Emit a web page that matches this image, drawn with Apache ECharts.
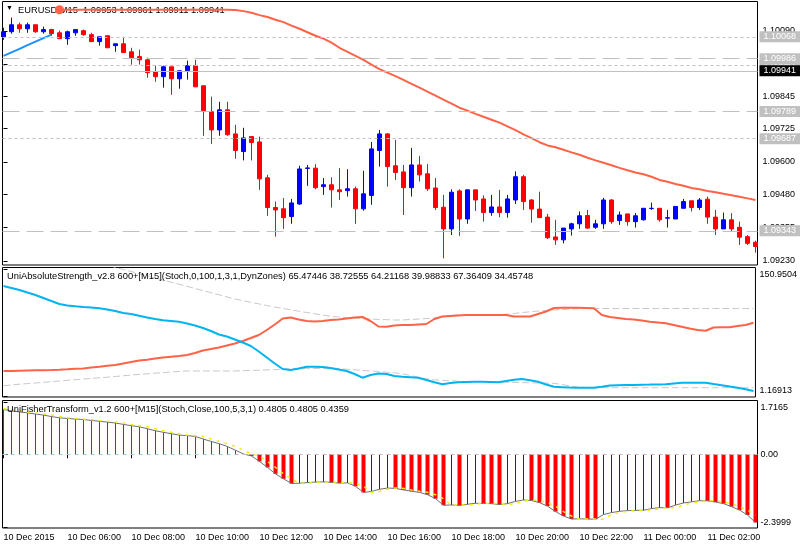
<!DOCTYPE html>
<html><head><meta charset="utf-8">
<script src="https://cdn.jsdelivr.net/npm/echarts@6.0.0/dist/echarts.min.js"></script>
<style>html,body{margin:0;padding:0;background:#fff}#c{width:800px;height:550px}</style>
</head><body><div id="c"></div>
<script>
// ---------- data ----------
const tickIdx = [0,8,16,24,32,40,48,56,64,72,80,88];
const tickText = ['10 Dec 2015','10 Dec 06:00','10 Dec 08:00','10 Dec 10:00','10 Dec 12:00','10 Dec 14:00','10 Dec 16:00','10 Dec 18:00','10 Dec 20:00','10 Dec 22:00','11 Dec 00:00','11 Dec 02:00'];

const open = [1.10068,1.10087,1.10113,1.10098,1.10113,1.10087,1.10095,1.10083,1.10061,1.10083,
1.10091,1.10076,1.10050,1.10072,1.10035,1.10042,1.10012,1.09994,1.09982,1.09938,
1.09919,1.09956,1.09911,1.09941,1.09960,1.09885,1.09788,1.09720,1.09795,1.09705,
1.09639,1.09695,1.09675,1.09541,1.09430,1.09425,1.09396,1.09443,1.09576,1.09577,
1.09508,1.09515,1.09496,1.09493,1.09500,1.09425,1.09475,1.09643,1.09705,1.09586,
1.09563,1.09504,1.09589,1.09556,1.09503,1.09431,1.09350,1.09492,1.09387,1.09496,
1.09462,1.09411,1.09432,1.09411,1.09458,1.09545,1.09458,1.09424,1.09394,1.09320,
1.09309,1.09350,1.09369,1.09400,1.09356,1.09369,1.09458,1.09381,1.09406,1.09377,
1.09384,1.09426,1.09427,1.09390,1.09387,1.09427,1.09455,1.09430,1.09461,1.09394,
1.09350,1.09384,1.09356,1.09321,1.09300];
const close = [1.10087,1.10113,1.10098,1.10113,1.10087,1.10095,1.10080,1.10061,1.10087,1.10095,
1.10076,1.10050,1.10068,1.10027,1.10042,1.10009,1.09990,1.09982,1.09934,1.09919,
1.09956,1.09911,1.09941,1.09960,1.09881,1.09792,1.09720,1.09795,1.09702,1.09643,
1.09690,1.09673,1.09537,1.09430,1.09421,1.09392,1.09447,1.09574,1.09578,1.09504,
1.09515,1.09496,1.09489,1.09500,1.09425,1.09481,1.09649,1.09705,1.09583,1.09561,
1.09504,1.09589,1.09552,1.09500,1.09430,1.09350,1.09487,1.09387,1.09496,1.09458,
1.09411,1.09432,1.09411,1.09462,1.09545,1.09452,1.09424,1.09392,1.09317,1.09309,
1.09353,1.09369,1.09399,1.09353,1.09369,1.09458,1.09377,1.09402,1.09377,1.09399,
1.09427,1.09427,1.09384,1.09392,1.09434,1.09452,1.09430,1.09458,1.09394,1.09350,
1.09384,1.09350,1.09319,1.09296,1.09284];
const high = [1.10102,1.10140,1.10121,1.10121,1.10113,1.10106,1.10098,1.10091,1.10091,1.10095,
1.10095,1.10083,1.10068,1.10072,1.10042,1.10068,1.10027,1.10020,1.09990,1.09960,
1.09960,1.09956,1.09941,1.09979,1.09982,1.09885,1.09844,1.09825,1.09825,1.09739,
1.09728,1.09695,1.09695,1.09552,1.09452,1.09465,1.09462,1.09586,1.09589,1.09592,
1.09540,1.09543,1.09577,1.09573,1.09508,1.09567,1.09675,1.09720,1.09708,1.09683,
1.09589,1.09653,1.09623,1.09593,1.09540,1.09477,1.09498,1.09498,1.09496,1.09496,
1.09475,1.09477,1.09496,1.09477,1.09565,1.09552,1.09461,1.09489,1.09406,1.09384,
1.09353,1.09373,1.09415,1.09421,1.09384,1.09466,1.09461,1.09415,1.09406,1.09409,
1.09427,1.09448,1.09427,1.09421,1.09434,1.09462,1.09455,1.09465,1.09471,1.09421,
1.09411,1.09409,1.09377,1.09327,1.09306];
const low = [1.10057,1.10080,1.10083,1.10083,1.10083,1.10080,1.10072,1.10061,1.10038,1.10072,
1.10072,1.10050,1.10035,1.10027,1.10012,1.10009,1.09964,1.09964,1.09915,1.09900,
1.09878,1.09851,1.09874,1.09908,1.09881,1.09698,1.09668,1.09698,1.09698,1.09612,
1.09606,1.09606,1.09496,1.09399,1.09321,1.09350,1.09369,1.09440,1.09511,1.09498,
1.09477,1.09430,1.09458,1.09471,1.09369,1.09418,1.09440,1.09583,1.09508,1.09533,
1.09402,1.09471,1.09527,1.09492,1.09421,1.09240,1.09327,1.09324,1.09369,1.09417,
1.09377,1.09399,1.09394,1.09392,1.09443,1.09421,1.09373,1.09392,1.09312,1.09290,
1.09296,1.09325,1.09350,1.09350,1.09350,1.09350,1.09369,1.09365,1.09362,1.09355,
1.09381,1.09421,1.09377,1.09355,1.09387,1.09427,1.09415,1.09421,1.09369,1.09327,
1.09350,1.09340,1.09290,1.09290,1.09261];

const maFast = [1.09997,1.10010,1.10023,1.10037,1.10050,1.10063,1.10076];
const maSlow = [null,null,null,null,null,null,null,
1.10169,1.10169,1.10169,1.10169,1.10169,1.10169,1.10169,1.10169,1.10169,1.10169,1.10169,
1.10169,1.10169,1.10169,1.10169,1.10169,1.10169,1.10169,1.10169,1.10169,1.10169,1.10169,
1.10168,1.10164,1.10158,1.10149,1.10142,1.10132,1.10123,1.10110,1.10098,1.10085,1.10072,
1.10061,1.10046,1.10027,1.10012,1.09997,1.09982,1.09964,1.09947,1.09934,1.09921,
1.09907,1.09892,1.09878,1.09863,1.09848,1.09833,1.09818,1.09803,1.09792,1.09780,
1.09769,1.09758,1.09747,1.09733,1.09719,1.09703,1.09689,1.09674,1.09662,1.09655,
1.09646,1.09636,1.09627,1.09616,1.09606,1.09597,1.09588,1.09578,1.09569,1.09561,
1.09554,1.09545,1.09533,1.09526,1.09518,1.09511,1.09503,1.09498,1.09492,1.09487,
1.09481,1.09476,1.09470,1.09464,1.09458];

const priceTicks = [1.10090,1.09965,1.09845,1.09725,1.09600,1.09480,1.09355,1.09230];
const dottedLevels = [1.10068,1.09961,1.09687];
const dashedLevels = [1.09986,1.09789,1.09343];
const bidPrice = 1.09941;

const strengthBull = [30.66,30.66,31.01,31.24,31.48,31.60,31.83,32.19,32.66,33.25,
33.72,34.78,35.73,36.90,37.73,39.50,41.27,43.04,43.98,45.40,
46.58,47.52,48.35,49.53,51.88,54.83,56.60,58.37,60.73,63.09,
66.04,69.58,73.11,79.01,85.50,92.57,93.75,91.39,89.63,89.04,
89.63,90.81,91.39,92.57,93.75,94.34,89.63,83.14,82.90,84.32,
84.91,84.91,85.50,86.09,91.98,94.93,95.52,96.11,96.70,96.70,
96.70,96.70,96.70,96.70,94.93,94.93,94.93,97.88,100.83,104.96,
105.31,105.31,105.31,104.96,104.60,96.70,94.34,93.16,91.98,91.39,
90.21,88.80,87.86,86.91,84.91,82.90,80.78,79.01,78.18,81.96,
82.19,82.19,83.73,84.91,87.62];
const strengthBear = [130.90,128.55,126.19,123.24,120.29,116.75,113.21,109.67,107.90,106.96,
106.14,105.55,104.60,103.19,101.42,99.06,97.88,95.87,93.75,91.98,
90.45,89.63,88.80,86.68,84.32,81.37,77.83,73.70,71.34,67.81,
64.27,60.14,53.65,46.58,39.50,33.01,31.83,33.60,35.73,35.73,
35.37,34.19,32.42,30.66,27.12,22.75,25.94,27.71,27.12,24.76,
23.81,23.34,22.75,20.04,17.33,14.97,16.50,17.45,17.68,17.92,
18.04,17.68,17.33,18.86,20.39,21.22,19.69,18.04,14.73,12.02,
11.55,11.08,10.96,10.96,10.96,12.14,13.44,13.79,14.03,14.14,
14.38,14.61,14.85,14.97,16.03,16.86,16.86,16.86,16.74,15.20,
13.79,12.37,10.84,9.19,7.07];
const zoneUpper = [null,null,null,null,null,null,null,null,null,null,null,null,
158.03,155.67,152.96,150.36,148.00,145.41,142.70,140.34,137.98,135.39,
133.03,130.55,127.96,125.48,123.00,120.52,118.05,115.57,113.68,111.68,
109.79,107.90,106.02,104.48,102.83,101.18,99.65,98.12,96.58,95.05,
94.34,93.63,93.04,92.45,91.98,91.51,91.16,90.81,90.81,91.39,
91.98,92.45,93.16,94.93,96.46,96.70,96.70,96.70,96.70,96.93,
97.29,97.64,98.47,99.65,100.47,101.42,102.01,102.60,103.19,103.78,
104.13,104.37,104.37,104.37,104.37,104.37,104.37,104.37,104.37,104.37,
104.37,104.37,104.37,104.37,104.37,104.37,104.37,104.37,104.37,104.37,
104.37,104.37,104.37];
const zoneLower = [13.32,14.14,15.09,15.79,16.50,17.33,18.15,18.86,19.69,20.39,
21.22,21.93,22.63,23.34,24.17,24.99,25.94,26.64,27.35,28.06,
28.77,29.48,30.07,30.66,30.66,30.66,30.66,30.66,30.66,30.66,
31.01,31.36,31.60,31.95,32.31,32.78,33.01,33.25,33.49,33.60,
33.72,33.84,33.60,32.78,32.07,31.36,30.66,29.95,29.24,28.53,
27.35,25.35,23.34,21.45,20.04,19.57,19.10,18.62,18.15,18.04,
18.04,17.92,17.68,17.45,17.21,16.97,16.74,16.50,16.27,16.15,
14.73,12.96,11.78,11.19,10.96,10.96,10.96,10.96,10.96,10.96,
10.96,10.96,10.96,10.96,10.96,10.96,10.96,10.96,10.96,10.96,
10.96,10.96,10.96,10.96,10.96];
const pane2Ticks = [150.9504,1.16913];
const pane2TickText = ['150.9504','1.16913'];

const fisher = [1.464,1.422,1.386,1.354,1.318,1.282,1.234,1.192,1.172,1.153,
1.136,1.107,1.081,1.052,1.023,0.977,0.935,0.899,0.834,0.769,
0.718,0.672,0.627,0.610,0.581,0.497,0.416,0.344,0.253,0.133,
0.010,-0.055,-0.234,-0.429,-0.640,-0.802,-0.955,-0.945,-0.925,-0.909,
-0.903,-0.919,-0.942,-0.935,-1.045,-1.247,-1.214,-1.143,-1.104,-1.114,
-1.166,-1.208,-1.244,-1.321,-1.451,-1.666,-1.656,-1.672,-1.633,-1.601,
-1.607,-1.614,-1.646,-1.614,-1.539,-1.494,-1.513,-1.581,-1.695,-1.873,
-2.019,-2.117,-2.110,-2.117,-2.123,-1.971,-1.906,-1.864,-1.841,-1.834,
-1.828,-1.776,-1.744,-1.750,-1.662,-1.591,-1.555,-1.516,-1.523,-1.562,
-1.614,-1.711,-1.825,-1.987,-2.231];
const fisherSignal = [1.490,1.464,1.422,1.386,1.354,1.318,1.282,1.234,1.192,1.172,
1.153,1.136,1.107,1.081,1.052,1.023,0.977,0.935,0.899,0.834,
0.769,0.718,0.672,0.627,0.610,0.581,0.497,0.416,0.344,0.253,
0.133,0.010,-0.055,-0.234,-0.429,-0.640,-0.802,-0.955,-0.945,-0.925,
-0.909,-0.903,-0.919,-0.942,-0.935,-1.045,-1.247,-1.214,-1.143,-1.104,
-1.114,-1.166,-1.208,-1.244,-1.321,-1.451,-1.666,-1.656,-1.672,-1.633,
-1.601,-1.607,-1.614,-1.646,-1.614,-1.539,-1.494,-1.513,-1.581,-1.695,
-1.873,-2.019,-2.117,-2.110,-2.117,-2.123,-1.971,-1.906,-1.864,-1.841,
-1.834,-1.828,-1.776,-1.744,-1.750,-1.662,-1.591,-1.555,-1.516,-1.523,
-1.562,-1.614,-1.711,-1.825,-1.987];
const pane3Ticks = [1.7165,0,-2.3999];
const pane3TickText = ['1.7165','0.00','-2.3999'];

// ---------- chart ----------
const FONT = 'Liberation Sans';
const idx = open.map((_, i) => i);
const pairs = arr => idx.filter(i => arr[i] != null).map(i => [i, arr[i]]);
const X_MIN = -0.125, X_MAX = 94.25;
const GRID_LEFT = 2.5, GRID_W = 755;

function hiddenX(g) { return {gridIndex: g, type: 'value', min: X_MIN, max: X_MAX, show: false}; }
function edgeRich(text, list) {
  const k = list.indexOf(text);
  if (k === 0) return '{t|' + text + '}';
  if (k === list.length - 1) return '{b|' + text + '}';
  return text;
}
const edgeRichStyle = {t: {padding: [11, 0, 0, 0], fontSize: 9, fontFamily: FONT, color: '#000'},
                       b: {padding: [0, 0, 11, 0], fontSize: 9, fontFamily: FONT, color: '#000'}};

const greenBars = idx.filter(i => fisher[i] >= 0).map(i => [i, fisher[i]]);
const fallBars = idx.filter(i => fisher[i] < 0 && fisher[i] < fisher[i - 1]).map(i => [i, fisher[i]]);
const riseBars = idx.filter(i => fisher[i] < 0 && !(fisher[i] < fisher[i - 1])).map(i => [i, fisher[i]]);

const levelLabel = {show: true, position: 'end', distance: 2, color: '#fff', backgroundColor: '#c0c0c0',
  padding: [1, 4, 1, 4], fontSize: 9, fontFamily: FONT, lineHeight: 9,
  formatter: p => Number(p.value).toFixed(5)};

const levelLines = [
  ...dottedLevels.map(v => ({name: 'dot', yAxis: v, lineStyle: {type: [3, 3], color: '#c0c0c0', width: 1}})),
  ...dashedLevels.map(v => ({name: 'dash', yAxis: v, lineStyle: {type: [17, 7], color: '#c0c0c0', width: 1}}))
].sort((a, b) => a.yAxis - b.yAxis);
levelLines.push({name: 'bid', yAxis: bidPrice, lineStyle: {type: 'solid', color: '#c0c0c0', width: 1},
  label: Object.assign({}, levelLabel, {backgroundColor: '#000'})});

const slowData = pairs(maSlow).map((p, k) => k === 0 ? {value: p, symbol: 'circle', symbolSize: 9} : p);
const titleStyle = {fontSize: 9.3, lineHeight: 11, fontFamily: FONT, color: '#000', fontWeight: 'normal'};

const option = {
  animation: false,
  textStyle: {fontFamily: FONT},
  title: [
    {text: '▼', left: 6, top: 5, padding: 0, z: 1, textStyle: {fontSize: 7, color: '#000', fontWeight: 'normal'}},
    {text: 'EURUSD,M15  1.09953 1.09961 1.09911 1.09941', left: 18, top: 4.5, padding: 0, z: 1, textStyle: titleStyle},
    {text: 'UniAbsoluteStrength_v2.8 600+[M15](Stoch,0,100,1,3,1,DynZones) 65.47446 38.72555 64.21168 39.98833 67.36409 34.45748',
     left: 7, top: 271, padding: 0, textStyle: titleStyle},
    {text: 'UniFisherTransform_v1.2 600+[M15](Stoch,Close,100,5,3,1) 0.4805 0.4805 0.4359',
     left: 7, top: 404, padding: 0, textStyle: titleStyle}
  ],
  grid: [
    {left: GRID_LEFT, top: 1.5, width: GRID_W, height: 263.5, show: true, borderColor: '#000', borderWidth: 1},
    {left: GRID_LEFT, top: 267.5, width: GRID_W, height: 129.5, show: true, borderColor: '#000', borderWidth: 1},
    {left: GRID_LEFT, top: 400.5, width: GRID_W, height: 127.5, show: true, borderColor: '#000', borderWidth: 1}
  ],
  xAxis: [
    hiddenX(0), hiddenX(1),
    {gridIndex: 2, type: 'value', min: X_MIN, max: X_MAX, position: 'bottom',
     axisLine: {show: false}, splitLine: {show: false},
     axisTick: {show: true, customValues: tickIdx, length: 4, lineStyle: {color: '#000'}},
     axisLabel: {customValues: tickIdx, formatter: v => tickText[tickIdx.indexOf(v)], align: 'left',
       fontSize: 9, fontFamily: FONT, color: '#000', margin: 5}},
    hiddenX(2), hiddenX(2)
  ],
  yAxis: [
    {gridIndex: 0, type: 'value', position: 'right', min: 1.09215, max: 1.10200,
     axisLine: {show: false}, splitLine: {show: false},
     axisTick: {show: true, customValues: priceTicks, length: 4, lineStyle: {color: '#000'}},
     axisLabel: {customValues: priceTicks, formatter: v => v.toFixed(5), fontSize: 9, fontFamily: FONT, color: '#000', margin: 5}},
    {gridIndex: 1, type: 'value', position: 'right', min: -0.01, max: 152.72,
     axisLine: {show: false}, splitLine: {show: false},
     axisTick: {show: true, customValues: pane2Ticks, length: 4, lineStyle: {color: '#000'}},
     axisLabel: {customValues: pane2Ticks, formatter: v => edgeRich(pane2TickText[pane2Ticks.indexOf(v)], pane2TickText),
       rich: edgeRichStyle, fontSize: 9, fontFamily: FONT, color: '#000', margin: 4}},
    {gridIndex: 2, type: 'value', position: 'right', min: -2.41, max: 1.759,
     axisLine: {show: false}, splitLine: {show: false},
     axisTick: {show: true, customValues: pane3Ticks, length: 4, lineStyle: {color: '#000'}},
     axisLabel: {customValues: pane3Ticks, formatter: v => edgeRich(pane3TickText[pane3Ticks.indexOf(v)], pane3TickText),
       rich: edgeRichStyle, fontSize: 9, fontFamily: FONT, color: '#000', margin: 3}}
  ],
  series: [
    {type: 'line', xAxisIndex: 0, yAxisIndex: 0, data: pairs(maFast), symbol: 'none', z: 1,
     lineStyle: {color: '#1e90ff', width: 2},
     markLine: {symbol: ['none', 'none'], silent: true, animation: false, precision: 5, label: levelLabel, data: levelLines}},
    {type: 'candlestick', xAxisIndex: 0, yAxisIndex: 0, barWidth: 4, z: 2,
     data: idx.map(i => [i, open[i], close[i], low[i], high[i]]),
     encode: {x: 0, y: [1, 2, 3, 4]},
     itemStyle: {color: '#0000ff', color0: '#ff0000', borderColor: '#0000ff', borderColor0: '#ff0000', borderWidth: 1}},
    {type: 'line', xAxisIndex: 0, yAxisIndex: 0, data: slowData, symbol: 'none', showSymbol: true,
     itemStyle: {color: '#ff6347'}, lineStyle: {color: '#ff6347', width: 2}, z: 3},

    {type: 'line', xAxisIndex: 1, yAxisIndex: 1, data: pairs(zoneUpper), symbol: 'none',
     lineStyle: {color: '#c8c8c8', width: 1, type: [7, 3]}},
    {type: 'line', xAxisIndex: 1, yAxisIndex: 1, data: pairs(zoneLower), symbol: 'none',
     lineStyle: {color: '#c8c8c8', width: 1, type: [7, 3]}},
    {type: 'line', xAxisIndex: 1, yAxisIndex: 1, data: pairs(strengthBull), symbol: 'none',
     lineStyle: {color: '#ff6347', width: 2}},
    {type: 'line', xAxisIndex: 1, yAxisIndex: 1, data: pairs(strengthBear), symbol: 'none',
     lineStyle: {color: '#00b4f0', width: 2}},

    {type: 'bar', xAxisIndex: 2, yAxisIndex: 2, data: greenBars, barWidth: 1, itemStyle: {color: '#008000'}},
    {type: 'bar', xAxisIndex: 3, yAxisIndex: 2, data: fallBars, barWidth: 4, itemStyle: {color: '#ff0000'}},
    {type: 'bar', xAxisIndex: 4, yAxisIndex: 2, data: riseBars, barWidth: 1, itemStyle: {color: '#8b0000'}},
    {type: 'line', xAxisIndex: 2, yAxisIndex: 2, data: pairs(fisher), symbol: 'none', z: 4,
     lineStyle: {color: '#707070', width: 1},
     markLine: {symbol: ['none', 'none'], silent: true, label: {show: false},
       lineStyle: {color: '#c0c0c0', type: [4, 4], width: 1}, data: [{yAxis: 0}]}},
    {type: 'line', xAxisIndex: 2, yAxisIndex: 2, data: pairs(fisherSignal), symbol: 'none', z: 5,
     lineStyle: {color: '#f2f200', width: 1.5, type: [3, 5]}}
  ]
};
const chart = echarts.init(document.getElementById('c'), null, {renderer: 'canvas'});
chart.setOption(option);
</script>
</body></html>
